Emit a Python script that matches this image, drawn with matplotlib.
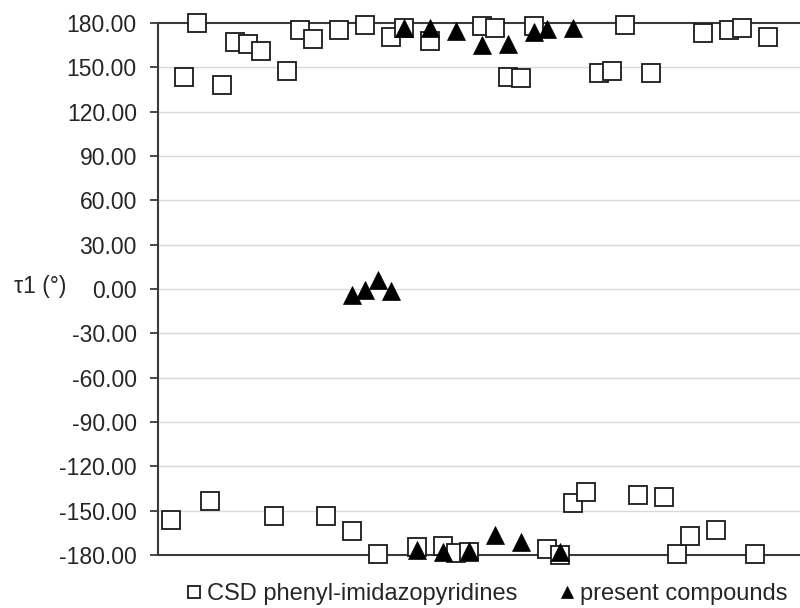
import numpy as np
import matplotlib
matplotlib.use("Agg")
import matplotlib.pyplot as plt

plt.rcParams['font.family'] = ['Liberation Sans', 'DejaVu Sans']

# CSD phenyl-imidazopyridines (entry index, torsion tau1 in degrees)
csd_x = list(range(1, 48))
csd_y = [-156, 143.4, 180, -143.4, 138, 167, 166, 161, -153.6, 147.5,
         175, 169, -153.6, 175, -163.7, 178.6, -179.3, 170.5, 176.6, -174.6,
         168, -173.9, -178.6, -178, 178, 176.6, 143.4, 142.7, 178, -176,
         -180, -144.8, -137, 146, 147.5, 179, -139.4, 146, -140.7, -179.3,
         -167, 173, -163, 175, 176.6, -179.3, 170.5]

# present compounds
pc_x = list(range(15, 33))
pc_y = [-4, -0.7, 6, -1, 177, -176.6, 176.5, -178, 174.6, -177,
        165, -166.4, 165.8, -171, 174, 176, -178, 177]

yticks = np.arange(-180, 181, 30)

fig = plt.figure(figsize=(8, 6.08), dpi=100)
ax = fig.add_axes([0.197, 0.087, 0.803, 0.875])

for t in yticks[1:-1]:
    ax.axhline(t, color='#d9d9d9', lw=1.0, zorder=0)
ax.axhline(180, color='#3a3a3a', lw=1.5, zorder=1, clip_on=False)
ax.axhline(-180, color='#3a3a3a', lw=1.5, zorder=1, clip_on=False)

sq, = ax.plot(csd_x, csd_y, ls='none', marker='s', ms=13, mfc='white',
              mec='#1a1a1a', mew=1.3, clip_on=False, zorder=3,
              label='CSD phenyl-imidazopyridines')
tr, = ax.plot(pc_x, pc_y, ls='none', marker='^', ms=13, mfc='black',
              mec='black', mew=0.5, clip_on=False, zorder=4,
              label='present compounds')

ax.set_xlim(0, 49.5)
ax.set_ylim(-180, 180)
ax.set_yticks(yticks)
ax.set_yticklabels([f"{v:.2f}" for v in yticks], fontsize=16.5, color='#262626')
ax.tick_params(axis='y', length=6, width=1.3, color='#3a3a3a', pad=9)
ax.set_xticks([])
for s in ['top', 'right', 'bottom']:
    ax.spines[s].set_visible(False)
ax.spines['left'].set_color('#3a3a3a')
ax.spines['left'].set_linewidth(1.5)

fig.text(14 / 800, 1 - 287 / 608, 'τ1 (°)', fontsize=16.5, color='#262626',
         va='center', ha='left')

leg = fig.legend(handles=[sq, tr], loc='center', ncol=2,
                 bbox_to_anchor=(0.609, 1 - 594 / 608), frameon=False,
                 fontsize=17, markerscale=0.62, handlelength=0.6,
                 handletextpad=0.25, columnspacing=1.8,
                 borderpad=0, borderaxespad=0)
for t in leg.get_texts():
    t.set_color('#262626')

fig.savefig('out.png', dpi=100)
